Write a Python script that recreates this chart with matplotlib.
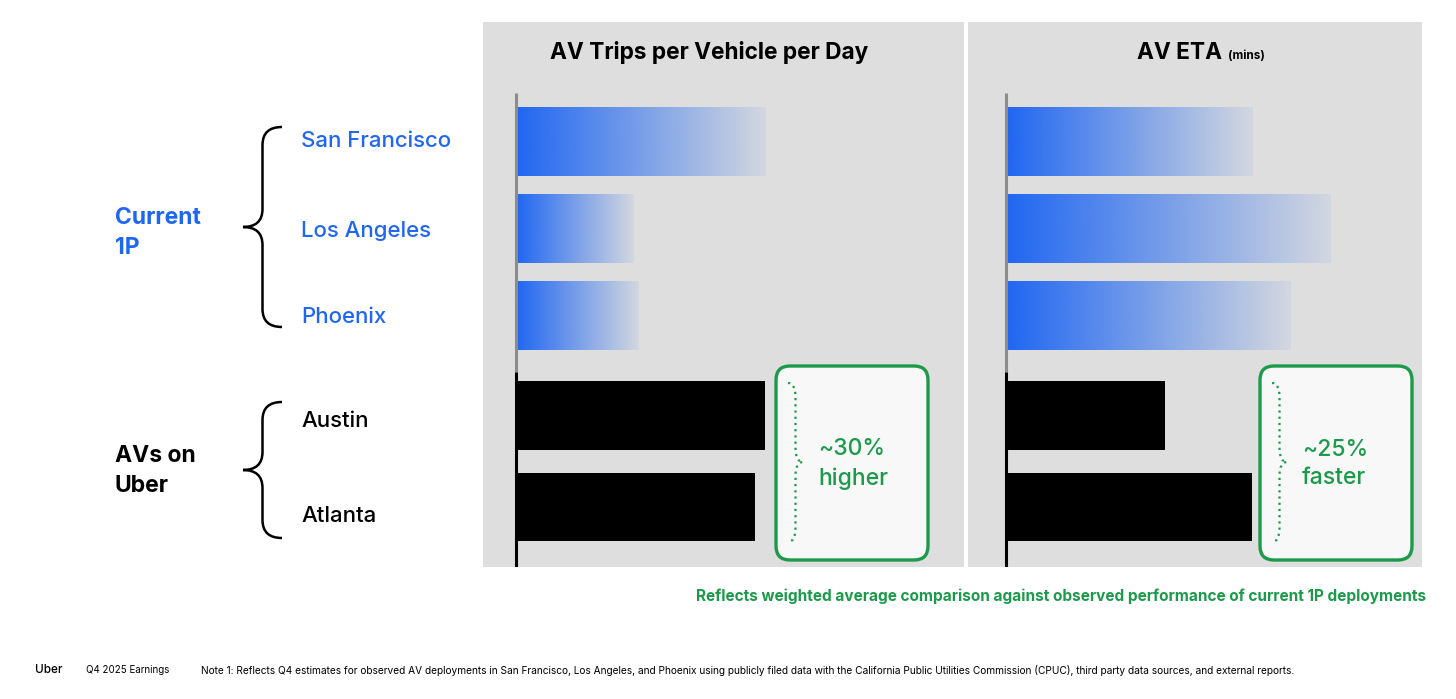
import numpy as np
import matplotlib
matplotlib.use("Agg")
import matplotlib.pyplot as plt
from matplotlib.path import Path
from matplotlib.patches import PathPatch, FancyBboxPatch
from matplotlib.colors import to_rgb

plt.rcParams['font.family'] = ['Inter', 'DejaVu Sans']

# data (relative bar lengths)
cities = ['San Francisco', 'Los Angeles', 'Phoenix', 'Austin', 'Atlanta']
is_1p = [True, True, True, False, False]
trips_per_day = [100, 47, 49, 99.5, 95.5]
eta_mins = [98.5, 130, 114, 63.5, 98.5]
row_pos = [0, 1, 2, 3.15, 4.2]

BLUE = '#1F66F2'
GREEN = '#1B9A4A'
PANEL = '#DEDEDE'

W, H = 1456, 699
fig = plt.figure(figsize=(W / 100, H / 100), dpi=100)
fig.patch.set_facecolor('white')


def px_axes(x0, y0, x1, y1):
    return [x0 / W, 1 - y1 / H, (x1 - x0) / W, (y1 - y0) / H]


def draw_panel(rect, values, xlim):
    ax = fig.add_axes(px_axes(*rect))
    ax.set_facecolor(PANEL)
    for s in ax.spines.values():
        s.set_visible(False)
    ax.set_xticks([])
    ax.set_yticks([])
    bar_h = 0.79
    cols = ['none' if b else 'black' for b in is_1p]
    bars = ax.barh(row_pos, values, height=bar_h, color=cols, zorder=2)
    rgb = np.array(to_rgb(BLUE))
    grad = np.zeros((1, 256, 4))
    grad[..., :3] = rgb
    grad[..., 3] = np.linspace(1.0, 0.06, 256)
    for b, flag in zip(bars, is_1p):
        if not flag:
            continue
        x0, y0 = b.get_x(), b.get_y()
        im = ax.imshow(grad, extent=[x0, x0 + b.get_width(), y0 + b.get_height(), y0],
                       aspect='auto', interpolation='bilinear', zorder=2)
        im.set_clip_path(b)
    # axis line: gray over 1P rows, black over AV rows
    ax.plot([0, 0], [-0.557, 2.65], color='#8C8C8C', lw=2.2, zorder=3, solid_capstyle='butt')
    ax.plot([0, 0], [2.65, 4.9], color='black', lw=2.2, zorder=3, solid_capstyle='butt')
    ax.set_xlim(*xlim)
    ax.set_ylim(4.89, -1.374)
    return ax


draw_panel((483, 22, 964, 567), trips_per_day, (-13.2, 179.2))
draw_panel((968, 22, 1422, 567), eta_mins, (-15.2, 166.4))

# overlay in pixel coordinates for labels and annotations
ov = fig.add_axes([0, 0, 1, 1], facecolor='none')
ov.set_xlim(0, W)
ov.set_ylim(H, 0)
ov.axis('off')

ov.text(709, 53, 'AV Trips per Vehicle per Day', ha='center', va='center',
        fontsize=16.3, fontweight='bold', color='black')
ov.text(1222, 53, 'AV ETA', ha='right', va='center', fontsize=16.3,
        fontweight='bold', color='black')
ov.text(1228, 56, '(mins)', ha='left', va='center', fontsize=8.5,
        fontweight='bold', color='black')

# city labels
label_y = [141, 231, 317, 421, 516]
for name, y, flag in zip(cities, label_y, is_1p):
    ov.text(301, y, name, ha='left', va='center', fontsize=16,
            color=BLUE if flag else 'black', fontweight='medium')

ov.text(115, 233, 'Current\n1P', ha='left', va='center', fontsize=16.5,
        fontweight='bold', color=BLUE, linespacing=1.5)
ov.text(115, 471, 'AVs on\nUber', ha='left', va='center', fontsize=16.5,
        fontweight='bold', color='black', linespacing=1.5)


def brace(x_end, x_tip, y_top, y_bot, y_mid, r=18):
    x_v = (x_end + x_tip) / 2
    verts = [(x_end, y_top), (x_v, y_top), (x_v, y_top + r),
             (x_v, y_mid - r), (x_v, y_mid), (x_tip, y_mid),
             (x_v, y_mid), (x_v, y_mid + r),
             (x_v, y_bot - r), (x_v, y_bot), (x_end, y_bot)]
    codes = [Path.MOVETO, Path.CURVE3, Path.CURVE3,
             Path.LINETO, Path.CURVE3, Path.CURVE3,
             Path.CURVE3, Path.CURVE3,
             Path.LINETO, Path.CURVE3, Path.CURVE3]
    return Path(verts, codes)


ov.add_patch(PathPatch(brace(282, 243, 127, 327, 227), fc='none', ec='black', lw=1.8))
ov.add_patch(PathPatch(brace(282, 243, 402, 538, 470), fc='none', ec='black', lw=1.8))

# callout boxes
callouts = [(776, '~30%\nhigher'), (1260, '~25%\nfaster')]
for bx, txt in callouts:
    box = FancyBboxPatch((bx, 366), 152, 194, boxstyle='round,pad=0,rounding_size=14',
                         fc='#F8F8F8', ec=GREEN, lw=2.4, zorder=3)
    ov.add_patch(box)
    ov.add_patch(PathPatch(brace(bx + 12, bx + 27, 383, 542, 462, r=14), fc='none',
                           ec=GREEN, lw=1.6, ls=(0, (1, 1.8)), zorder=4))
    ov.text(bx + 42, 464, txt, ha='left', va='center', fontsize=16.5,
            color=GREEN, linespacing=1.4, zorder=5, fontweight='medium')

ov.text(1426, 596, 'Reflects weighted average comparison against observed performance of current 1P deployments',
        ha='right', va='center', fontsize=11.05, fontweight='bold', color=GREEN)

# footer
ov.text(35, 670, 'Uber', ha='left', va='center', fontsize=8.5, fontweight='medium')
ov.text(86, 670, 'Q4 2025 Earnings', ha='left', va='center', fontsize=7)
ov.text(201, 670, 'Note 1: Reflects Q4 estimates for observed AV deployments in San Francisco, Los Angeles, and Phoenix '
        'using publicly filed data with the California Public Utilities Commission (CPUC), third party data sources, '
        'and external reports.', ha='left', va='center', fontsize=7.3)

ov.set_xlim(0, W)
ov.set_ylim(H, 0)
fig.savefig('out.png', dpi=100, facecolor='white')
